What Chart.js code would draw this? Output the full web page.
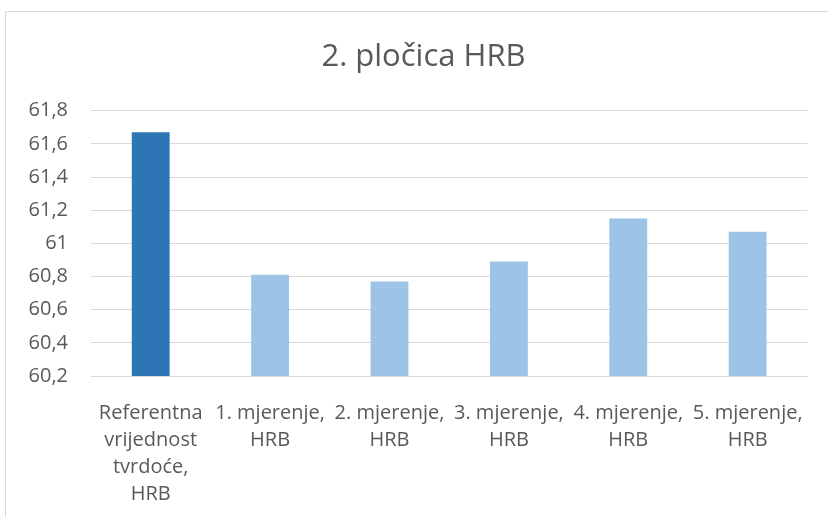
<!DOCTYPE html>
<html>
<head>
<meta charset="utf-8">
<script src="https://cdn.jsdelivr.net/npm/chart.js@4"></script>
<style>
  html, body { margin: 0; padding: 0; background: #fff; overflow: hidden; }
  #wrap { position: relative; width: 828px; height: 517px; }
  #frame { position: absolute; left: 5px; top: 11px; width: 900px; height: 600px; border: 1px solid #d9d9d9; }
  #chart { position: absolute; left: 0; top: 0; }
</style>
</head>
<body>
<div id="wrap">
  <div id="frame"></div>
  <canvas id="chart" width="828" height="517"></canvas>
</div>
<script>
// data
const chartTitle = "2. pločica HRB";
const categories = [
  ["Referentna", "vrijednost", "tvrdoće,", "HRB"],
  ["1. mjerenje,", "HRB"],
  ["2. mjerenje,", "HRB"],
  ["3. mjerenje,", "HRB"],
  ["4. mjerenje,", "HRB"],
  ["5. mjerenje,", "HRB"]
];
const hardness = [61.67, 60.81, 60.77, 60.89, 61.15, 61.07];
const yTicks = [60.2, 60.4, 60.6, 60.8, 61, 61.2, 61.4, 61.6, 61.8];

const textColor = "#595959";
const gridColor = "#d9d9d9";

// the excel chart is wider than the crop, so its title sits right of the canvas centre
const titlePlugin = {
  id: "offsetTitle",
  afterDraw(chart) {
    const ctx = chart.ctx;
    ctx.save();
    ctx.font = "31px 'Open Sans'";
    ctx.fillStyle = textColor;
    ctx.textAlign = "center";
    ctx.textBaseline = "alphabetic";
    ctx.fillText(chartTitle, 423.5, 66);
    ctx.restore();
  }
};

const config = {
  type: "bar",
  data: {
    labels: categories,
    datasets: [{
      label: chartTitle,
      data: hardness,
      backgroundColor: ctx => ctx.dataIndex === 0 ? "#2e75b6" : "#9dc3e6",
      barPercentage: 0.317,
      categoryPercentage: 1
    }]
  },
  options: {
    responsive: false,
    animation: false,
    layout: { padding: { left: 0, right: 17, top: 110.7, bottom: 0 } },
    plugins: {
      legend: { display: false },
      tooltip: { enabled: false },
      title: { display: false }
    },
    scales: {
      x: {
        grid: { display: false, drawTicks: false },
        border: { display: true, color: gridColor, width: 1 },
        ticks: {
          color: textColor,
          font: { family: "'Open Sans'", size: 20, lineHeight: 1.34 },
          padding: 24,
          maxRotation: 0,
          autoSkip: false
        },
        afterFit: scale => { scale.height = 141; }
      },
      y: {
        min: yTicks[0],
        max: yTicks[yTicks.length - 1],
        afterBuildTicks: scale => { scale.ticks = yTicks.map(v => ({ value: v })); },
        grid: { color: gridColor, lineWidth: 1, drawTicks: false },
        border: { display: false },
        ticks: {
          color: textColor,
          font: { family: "'Open Sans'", size: 20 },
          padding: 23,
          callback: v => String(Math.round(v * 10) / 10).replace(".", ",")
        },
        afterFit: scale => { scale.width = 91; }
      }
    }
  },
  plugins: [titlePlugin]
};

new Chart(document.getElementById("chart"), config);
</script>
</body>
</html>
